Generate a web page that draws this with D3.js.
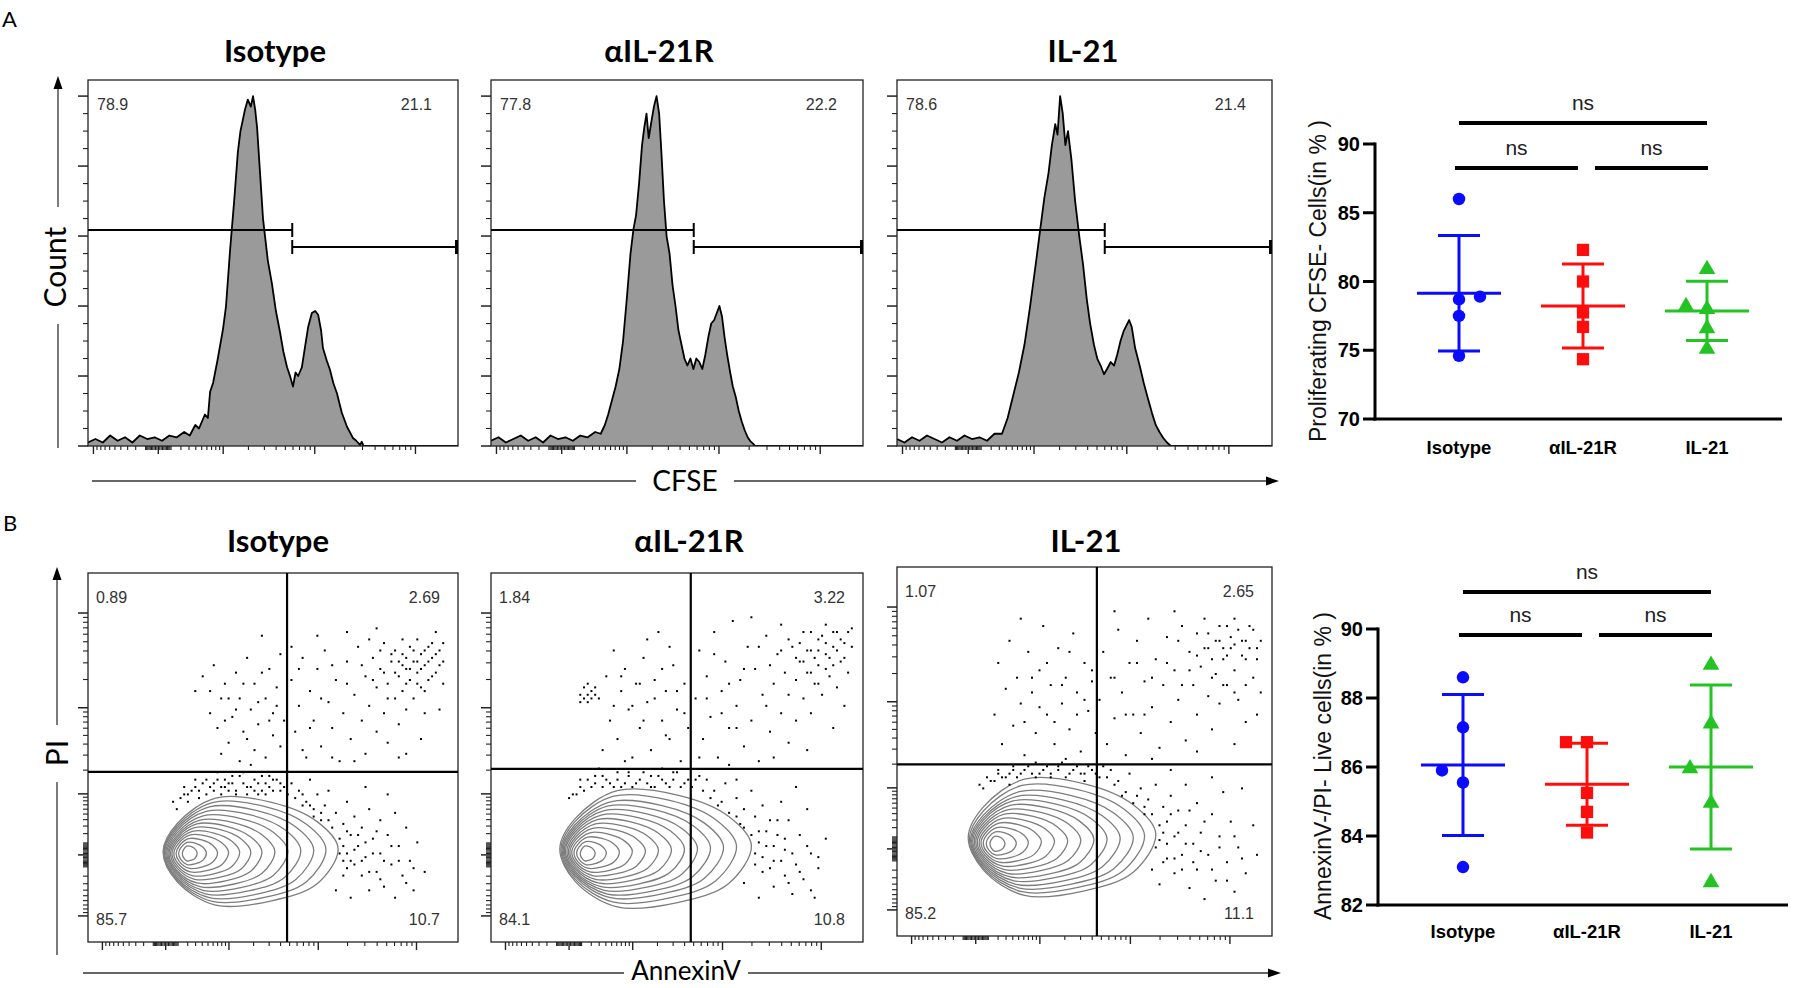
<!DOCTYPE html>
<html>
<head>
<meta charset="utf-8">
<title>CFSE proliferation and AnnexinV/PI viability</title>
<script src="https://cdn.jsdelivr.net/npm/d3@7/dist/d3.min.js"></script>
<style>
html,body{margin:0;padding:0;background:#fff;}
svg{display:block;}
</style>
</head>
<body>
<svg id="fig" width="1797" height="988"></svg>
<script>
// ======================= DATA =======================
const groups = ["Isotype", "αIL-21R", "IL-21"];

// CFSE histograms: [display channel 0-100, % of mode]
const histIsotype = [[0,1],[2,2],[4,1],[6,3],[8,1.5],[10,2.5],[12,1],[14,3],[16,2],[18,2.5],[20,1.5],[22,3],[24,2.5],[26,4],[27.5,3],[29,6],[30,5],[31.6,9],[32.4,8],[33,15.5],[33.8,18],[35,24.5],[36.5,33.5],[37.3,40],[38.4,56],[39.5,70],[40.5,84],[41.2,90],[42.4,96],[43.2,99],[44,97],[44.6,100],[45.2,96],[45.7,91],[46.5,78],[47.3,65],[48.6,53],[49.7,46.5],[50.8,38.5],[51.9,32.5],[52.8,27],[53.8,22.5],[54.6,20],[55.4,17],[56.1,21],[56.8,20],[57.8,22.5],[58.6,28],[59.5,34],[60.5,38],[61.4,38.6],[62.2,37.5],[63,33],[63.5,28],[64.5,24.5],[65.4,21.8],[66.3,18],[67.3,15],[68,12],[68.6,9.5],[70,5.5],[71.6,2.3],[72.5,1.5],[73.5,0.3],[74,1.2],[74.5,0],[100,0]];
const histAntiIL21R = [[0,1.5],[2,2.5],[4,1],[6,2],[8,3],[10,1.5],[12,2.5],[14,1],[16,3],[18,2],[20,2.5],[22,1.5],[24,3],[26,2.5],[28,4],[29.5,3.5],[30.6,6],[31.5,9],[32.5,13],[33.5,17],[34.5,22],[35.5,30],[36.5,42],[37.5,55],[38.3,62],[39,66],[39.8,75],[40.6,86],[41.2,91],[41.8,95],[42.4,88],[43,92],[43.8,97],[44.5,100],[45.2,95],[45.8,84],[46.5,70],[47.2,60],[48,55],[48.8,46],[49.6,40],[50.4,33],[51.2,29],[52,25],[52.8,23],[53.6,25],[54.4,22],[55.2,25],[56,24],[56.8,22],[57.6,26],[58.4,31],[59.2,35],[60,36],[60.7,38],[61.4,40],[62.1,37],[62.8,31],[63.5,26],[64.3,21],[65,17],[65.8,14],[66.6,10],[67.4,7],[68.2,4.5],[69,2.5],[69.7,1.4],[70.5,0.6],[71,0],[100,0]];
const histIL21 = [[0,2],[2,1],[4,2.5],[6,1.5],[8,3],[10,2],[12,1],[14,2.5],[16,1.5],[18,3],[20,2],[22,2.5],[24,1.5],[26,3.5],[28,3.5],[29.5,8],[31,14.5],[32.5,21],[34,29],[35.5,40],[37,52],[38.2,62],[39.3,71],[40.4,78],[41.3,86],[42.2,92],[42.8,89],[43.5,100],[44.2,95],[44.9,86],[45.6,90],[46.5,82],[47.5,70],[48.6,60],[49.6,52],[50.6,42],[51.5,35],[52.5,29],[53.4,25],[54.3,23],[55.2,20.5],[56,22],[57,24],[57.9,23],[58.7,26],[59.6,30],[60.5,33],[61.2,34.5],[61.9,36],[62.6,34],[63.5,28],[64.8,22.6],[65.8,18],[66.8,14],[68,9.4],[69,6],[70,4],[71,2.3],[72,1],[73,0],[100,0]];
const cfseGatePos = [55.2, 54.5, 55.4];
const cfseGateLabels = [["78.9","21.1"],["77.8","22.2"],["78.6","21.4"]];

// AnnexinV / PI quadrant plots (display channels 0-100; y measured upward)
const quadGatePos = [[53.8,46.1],[53.7,46.9],[53.3,46.5]];
const quadLabels = [["0.89","2.69","85.7","10.7"],["1.84","3.22","84.1","10.8"],["1.07","2.65","85.2","11.1"]];
// contour levels: [left, right, top, bottom]
const contoursIsotype = [[25.5,29.5,26,22],[24.5,32,27,21],[23.8,35,28,20],[23.2,38,29,19],[22.7,41,30,18],[22.3,44,31,17],[21.9,47,32,16],[21.6,50.5,33,15],[21.3,54,34.2,14],[21,57.5,35.4,13],[20.7,61,36.6,12],[20.5,64.3,37.8,11],[20.3,67.6,39,10]];
const contoursAntiIL21R = [[24,28,26,22],[23,31,27.2,21],[22.3,34.5,28.4,20],[21.7,38,29.6,19],[21.2,41.5,30.8,18],[20.8,45,32,17],[20.4,48.5,33.2,16],[20,52,34.4,15],[19.7,55.5,35.6,14],[19.4,59,36.8,13],[19.1,62.5,38,12],[18.8,66,39.5,10.8],[18.5,70,41,9.5]];
const contoursIL21 = [[24.8,28.8,27,23],[23.8,31.8,28.2,22],[23,35,29.4,21],[22.4,38.5,30.6,20],[21.9,42,31.8,19],[21.4,45.5,33,18],[21,49,34.2,17],[20.6,52.5,35.4,16],[20.2,56,36.6,15],[19.9,59.5,37.8,14],[19.6,63,39.1,13],[19.3,66,40.8,12],[19,69,42.5,11]];
// outlier events
const dotsIsotype = [[29,68],[31,72],[33,62],[34,75],[35,58],[36,66],[37,70],[38,54],[39,61],[40,73],[41,49],[41,66],[42,57],[43,77],[44,63],[45,52],[45,70],[46,59],[47,83],[48,66],[48,50],[49,74],[50,56],[50,62],[51,69],[52,53],[52,78],[53,60],[36,51],[44,48],
[38,66],[40,63],[42,70],[46,65],[47,73],[49,60],[51,64],[43,55],[37,60],[33,68],
[55,71],[56,57],[57,64],[58,77],[59,50],[60,68],[61,60],[62,74],[63,53],[64,79],[65,65],[66,58],[67,71],[68,49],[69,62],[70,76],[71,55],[72,67],[73,80],[74,60],[75,51],[75,72],[76,64],[77,77],[78,57],[78,69],[79,74],[80,62],[80,81],[81,70],[81,54],[82,76],[83,66],[83,79],[84,72],[84,59],[85,78],[85,68],[86,74],[86,63],[87,80],[87,71],[88,76],[88,66],[89,82],[89,73],[90,69],[90,78],[91,75],[91,62],[92,80],[92,71],[93,77],[94,73],[94,84],[95,79],[96,70],[96,76],[58,52],[66,50],[72,49],[84,50],[90,55],[62,83],[70,84],[78,85],[86,51],[95,63],[55,80],[76,82],
[80,73],[82,78],[83,73],[84,76],[85,75],[86,77],[86,70],[87,74],[88,79],[89,76],[90,74],[91,79],[92,76],[93,81],[94,78],[95,75],[96,81],[85,82],[89,70],[91,68],[93,72],[79,79],[81,66],[77,71],[74,75],[70,70],[66,75],[63,66],[60,58],[57,74],
[24,36],[26,40],[28,41],[30,39],[31,43],[33,42],[35,44],[36,40],[38,43],[40,41],[41,45],[43,42],[45,44],[46,40],[48,43],[50,41],[51,44],[53,42],[27,38],[37,42],[44,39],[49,45],
[23,38],[25,39],[26,42],[27,40],[29,42],[29,44],[30,41],[32,40],[32,44],[34,41],[34,43],[35,46],[36,42],[37,44],[38,41],[39,43],[39,45],[40,40],[42,43],[42,46],[43,40],[44,42],[45,41],[46,43],[47,41],[47,45],[48,40],[49,42],[50,44],[52,41],[52,43],[54,40],[55,43],[56,39],[58,40],[58,37],[60,37],[61,34],[62,32],[63,35],[64,30],[65,33],[66,28],[67,26],[68,24],[69,22],[69,26],[70,20],[70,30],[71,22],[72,25],[73,29],[74,22],[75,27],[76,19],[77,24],[78,30],[79,17],[80,22],[82,26],[84,22],[86,16],[88,20],
[57,41],[59,38],[61,36],[62,40],[63,33],[64,37],[66,31],[67,35],[68,28],[69,32],[70,24],[70,38],[71,29],[72,21],[72,34],[73,26],[74,18],[74,31],[75,23],[76,36],[76,14],[77,28],[78,19],[79,33],[79,24],[80,15],[81,29],[82,21],[83,35],[83,12],[84,26],[85,18],[86,31],[87,22],[88,14],[89,27],[91,19],[69,18],[67,14],[71,12],[65,41],[60,44],[75,42],[81,40]];
const dotsAntiIL21R = [[24,67],[25,66],[25,69],[26,67],[26,65],[27,68],[27,66],[28,67],[24,65],[28,69],[29,66],[26,70],[31,72],[32,60],[33,79],[34,55],[35,68],[36,74],[37,63],[38,50],[39,70],[40,58],[41,77],[42,65],[43,52],[44,71],[45,84],[46,60],[47,68],[48,55],[49,75],[50,63],[51,49],[52,70],[53,58],[30,52],[42,82],[36,49],[48,80],
[38,64],[40,70],[44,66],[46,74],[50,68],[52,62],[41,60],[35,72],[47,56],[33,64],
[55,66],[56,79],[57,55],[58,72],[59,61],[60,84],[61,50],[62,68],[63,76],[64,58],[65,87],[66,64],[67,71],[68,53],[69,80],[70,60],[71,74],[72,49],[73,67],[74,83],[75,57],[76,70],[77,78],[78,62],[78,86],[79,73],[80,54],[80,67],[81,80],[82,71],[82,60],[83,76],[84,84],[84,66],[85,73],[86,79],[86,62],[87,70],[88,82],[88,75],[89,67],[90,78],[90,86],[91,72],[92,80],[93,69],[93,84],[94,76],[95,81],[96,73],[97,85],[56,50],[64,48],[76,50],[85,52],[92,58],[95,64],[70,88],[60,78],
[82,77],[83,81],[85,79],[86,84],[87,77],[88,79],[89,83],[90,81],[91,77],[92,84],[93,79],[94,82],[95,77],[96,84],[97,80],[84,76],[86,73],[88,70],[90,74],[92,75],[80,82],[78,79],[75,75],[72,80],[68,74],[64,70],[62,62],[58,66],[66,58],[74,64],
[22,40],[24,42],[26,44],[28,43],[30,45],[32,43],[34,46],[35,42],[37,45],[39,43],[41,46],[43,42],[45,45],[47,43],[49,46],[51,42],[53,44],[29,47],[40,41],[46,47],[56,45],
[21,39],[23,40],[24,44],[25,41],[27,42],[28,45],[30,42],[31,44],[33,42],[34,44],[36,43],[37,46],[38,42],[40,44],[42,43],[43,45],[44,42],[46,44],[48,42],[49,44],[50,46],[52,43],[54,42],[55,44],[57,41],[59,39],[61,37],[62,35],[64,33],[65,30],[66,34],[67,28],[68,31],[69,25],[70,29],[71,21],[72,27],[73,23],[74,30],[75,20],[76,26],[77,33],[78,22],[79,28],[80,16],[81,24],[83,19],[85,26],[86,14],[88,23],
[58,44],[60,41],[62,38],[63,43],[64,35],[66,39],[67,32],[68,36],[69,28],[70,41],[71,24],[71,34],[72,30],[73,19],[73,37],[74,26],[75,33],[76,15],[76,22],[77,29],[78,38],[79,18],[79,25],[80,33],[81,13],[82,21],[83,29],[84,17],[85,36],[86,24],[87,12],[88,20],[90,28],[68,16],[72,12],[66,44],[82,42]];
const dotsIL21 = [[26,60],[27,74],[28,52],[29,67],[30,80],[31,57],[32,70],[33,63],[34,49],[35,77],[36,66],[37,55],[38,72],[39,84],[40,60],[41,68],[42,52],[43,78],[44,63],[45,70],[46,56],[47,82],[48,66],[49,50],[50,74],[51,61],[52,69],[53,55],[33,86],[45,48],
[38,62],[40,74],[44,68],[46,77],[50,64],[52,72],[42,58],[36,70],[48,60],[34,58],
[54,64],[55,77],[56,52],[57,70],[58,59],[59,83],[60,66],[61,49],[62,74],[63,60],[64,80],[65,55],[66,69],[67,86],[68,62],[69,75],[70,51],[71,68],[72,81],[73,58],[74,72],[75,64],[76,84],[77,53],[78,77],[79,68],[80,60],[80,82],[81,73],[82,86],[83,65],[83,78],[84,56],[85,71],[86,80],[86,63],[87,75],[88,84],[88,68],[89,78],[90,72],[90,86],[91,64],[92,80],[93,75],[93,58],[94,84],[95,70],[96,78],[97,66],[68,48],[80,50],[90,52],[58,88],[74,88],[96,60],
[82,78],[83,82],[84,75],[85,80],[86,84],[87,78],[88,76],[89,81],[90,79],[91,83],[92,76],[93,80],[94,78],[95,83],[96,75],[97,80],[84,70],[87,68],[90,66],[93,68],[80,76],[78,72],[75,80],[72,74],[68,70],[64,74],[61,60],[58,70],[66,60],[76,68],
[23,40],[25,42],[27,44],[29,43],[31,45],[33,44],[35,46],[37,43],[39,45],[41,44],[43,46],[45,43],[47,45],[49,44],[51,46],[53,44],[30,41],[42,42],[50,42],[55,46],
[22,41],[24,43],[26,42],[27,45],[28,43],[30,44],[31,46],[32,43],[34,45],[36,44],[37,47],[38,44],[40,46],[41,43],[43,45],[44,47],[46,44],[48,46],[50,44],[52,45],[54,43],[56,43],[58,41],[60,38],[61,35],[63,33],[64,38],[65,30],[66,35],[67,27],[68,33],[69,24],[70,30],[71,20],[71,28],[72,25],[73,33],[74,21],[75,28],[76,18],[77,25],[78,34],[79,20],[81,23],[82,31],[84,18],[86,24],[88,15],[90,27],[92,21],
[57,45],[59,42],[61,39],[62,44],[63,36],[65,40],[66,33],[67,37],[68,30],[69,41],[70,26],[71,35],[72,21],[72,31],[73,38],[74,17],[74,27],[75,34],[76,22],[77,30],[77,41],[78,13],[79,25],[80,36],[80,18],[81,28],[82,10],[83,22],[84,33],[85,15],[86,27],[87,39],[88,20],[89,31],[90,12],[91,24],[93,17],[95,30],[96,22],[70,14],[68,18],[73,45],[84,43],[92,40]];

// Summary plots (five donors per group)
const prolifIsotype   = [86.0, 78.7, 77.5, 74.6, 78.9];
const prolifAntiIL21R = [82.3, 80.0, 77.75, 76.7, 74.35];
const prolifIL21      = [81.0, 78.3, 78.1, 76.7, 75.2];
const prolifColumns   = [[0,0,0,0,1],[0,0,0,0,0],[0,-1,0,0,0]];
const liveIsotype     = [88.6, 87.15, 85.55, 85.9, 83.1];
const liveAntiIL21R   = [86.72, 86.72, 85.25, 84.7, 84.1];
const liveIL21        = [89.0, 87.3, 86.0, 85.0, 82.7];
const liveColumns     = [[0,0,0,-1,0],[-1,0,0,0,0],[0,0,-1,0,0]];
const prolifTicks = [70, 75, 80, 85, 90];
const liveTicks   = [82, 84, 86, 88, 90];
const comparisons = [[0,1,"ns"],[1,2,"ns"],[0,2,"ns"]];

// axis tick values (fluorescence units, biexponential-like display)
const majorFluorTicks = [-1000, 0, 1000, 10000, 100000];
const modeTicks = [0, 20, 40, 60, 80, 100];

// ======================= DRAWING =======================
const svg = d3.select("#fig");
const CAL = "Lato, Carlito, 'Open Sans', sans-serif";
const ARI = "'Liberation Sans', Arial, Helvetica, sans-serif";
const COLORS = ["#0b0bff", "#ff0d0d", "#22c322"];

function txt(g, x, y, s, size, o = {}) {
  const t = g.append("text").attr("x", x).attr("y", y).text(s)
    .attr("font-family", o.family || CAL).attr("font-size", size)
    .attr("font-weight", o.weight || "normal").attr("fill", o.fill || "#000")
    .attr("text-anchor", o.anchor || "start");
  if (o.rotate) t.attr("transform", `rotate(-90,${x},${y})`);
  return t;
}
function ln(g, x1, y1, x2, y2, w, c) {
  return g.append("line").attr("x1", x1).attr("y1", y1).attr("x2", x2).attr("y2", y2)
    .attr("stroke", c || "#000").attr("stroke-width", w);
}

// minor fluorescence ticks
const minorFluorTicks = [10, 100];
[10, 100, 1000, 10000].forEach(d => { for (let k = 2; k <= 9; k++) minorFluorTicks.push(k * d); });
[10, 100].forEach(d => { for (let k = 1; k <= 9; k++) minorFluorTicks.push(-k * d); });

function fluorScale(lowEnd) {
  return d3.scaleSymlog().constant(300).domain([lowEnd, 262144]).range([0, 100]);
}
const cfseScale = fluorScale(-1170);
const annexScale = fluorScale(-1515);
const piScale = fluorScale(-2133);

function xFluorTicks(g, xs, fs, yBase) {
  minorFluorTicks.forEach(v => { const c = fs(v); if (c >= 0 && c <= 100) ln(g, xs(c), yBase, xs(c), yBase + 4, 1.1, "#222"); });
  majorFluorTicks.forEach(v => { const c = fs(v); if (c >= 0 && c <= 100) ln(g, xs(c), yBase, xs(c), yBase + 8, 1.4, "#222"); });
}
function yFluorTicks(g, ys, fs, xBase) {
  minorFluorTicks.forEach(v => { const c = fs(v); if (c >= 0 && c <= 100) ln(g, xBase - 5, ys(c), xBase, ys(c), 1.1, "#222"); });
  majorFluorTicks.forEach(v => { const c = fs(v); if (c >= 0 && c <= 100) ln(g, xBase - 10, ys(c), xBase, ys(c), 1.5, "#222"); });
}

// panel letters
txt(svg, 2, 27, "A", 22);
txt(svg, 3, 531, "B", 22);

// ---------- A: CFSE histograms ----------
const histData = [histIsotype, histAntiIL21R, histIL21];
const histBoxes = [{x:88,y:80,w:370,h:366},{x:491,y:80,w:372,h:366},{x:897,y:80,w:375,h:366}];
const histTitleX = [275, 659, 1083];
const modeTop = 104.6;

histBoxes.forEach((b, i) => {
  const g = svg.append("g");
  const xs = d3.scaleLinear().domain([0, 100]).range([b.x, b.x + b.w]);
  const ys = d3.scaleLinear().domain([0, modeTop]).range([b.y + b.h, b.y]);
  const cid = "hclip" + i;
  g.append("clipPath").attr("id", cid).append("rect")
    .attr("x", b.x).attr("y", b.y).attr("width", b.w).attr("height", b.h);
  const inner = g.append("g").attr("clip-path", `url(#${cid})`);
  inner.append("path").datum(histData[i])
    .attr("d", d3.area().x(d => xs(d[0])).y0(ys(0)).y1(d => ys(d[1])))
    .attr("fill", "#9a9a9a");
  inner.append("path").datum(histData[i])
    .attr("d", d3.line().x(d => xs(d[0])).y(d => ys(d[1])))
    .attr("fill", "none").attr("stroke", "#000").attr("stroke-width", 1.8)
    .attr("stroke-linejoin", "round");
  g.append("rect").attr("x", b.x).attr("y", b.y).attr("width", b.w).attr("height", b.h)
    .attr("fill", "none").attr("stroke", "#222").attr("stroke-width", 1.3);
  d3.range(0, 101, 5).forEach(v => {
    const major = modeTicks.includes(v);
    ln(g, b.x - (major ? 10 : 5), ys(v), b.x, ys(v), major ? 1.5 : 1.1, "#222");
  });
  xFluorTicks(g, xs, cfseScale, b.y + b.h);
  const gx = xs(cfseGatePos[i]);
  const gy1 = b.y + 150, gy2 = b.y + 167;
  ln(g, b.x, gy1, gx, gy1, 2);
  ln(g, gx, gy1 - 7, gx, gy1 + 7, 2);
  ln(g, gx, gy2, b.x + b.w, gy2, 2);
  ln(g, gx, gy2 - 7, gx, gy2 + 7, 2);
  ln(g, b.x + b.w - 1.5, gy2 - 7, b.x + b.w - 1.5, gy2 + 7, 3);
  txt(g, b.x + 9, b.y + 30, cfseGateLabels[i][0], 16, {family: ARI, fill: "#333"});
  txt(g, b.x + b.w - 26, b.y + 30, cfseGateLabels[i][1], 16, {family: ARI, fill: "#333", anchor: "end"});
  txt(svg, histTitleX[i], 62, groups[i], 31, {weight: "bold", anchor: "middle"});
});

// Count / CFSE axis arrows
(function () {
  const g = svg.append("g");
  ln(g, 58, 86, 58, 207, 1.3, "#333");
  ln(g, 58, 324, 58, 448, 1.3, "#333");
  g.append("path").attr("d", "M58,76 L53.5,89 L62.5,89 Z").attr("fill", "#000");
  txt(g, 66, 267, "Count", 30, {anchor: "middle", rotate: true});
  ln(g, 92, 481, 636, 481, 1.3, "#333");
  ln(g, 734, 481, 1268, 481, 1.3, "#333");
  g.append("path").attr("d", "M1279,481 L1266,476.5 L1266,485.5 Z").attr("fill", "#000");
  txt(g, 685, 491, "CFSE", 28, {anchor: "middle"});
})();

// ---------- B: AnnexinV / PI ----------
const dotData = [dotsIsotype, dotsAntiIL21R, dotsIL21];
const contourData = [contoursIsotype, contoursAntiIL21R, contoursIL21];
const quadBoxes = [{x:88,y:573,w:370,h:369},{x:491,y:573,w:372,h:369},{x:897,y:567,w:375,h:369}];
const quadTitleX = [278, 689, 1086];

function contourPoints(c) {
  const [xl, xr, yt, yb] = c, w = xr - xl, h = yt - yb, yc = (yt + yb) / 2;
  return [[xl, yc], [xl + 0.08 * w, yt - 0.24 * h], [xl + 0.3 * w, yt], [xl + 0.62 * w, yt - 0.04 * h],
          [xl + 0.88 * w, yt - 0.22 * h], [xr, yc + 0.03 * h], [xl + 0.88 * w, yb + 0.2 * h],
          [xl + 0.62 * w, yb + 0.04 * h], [xl + 0.3 * w, yb], [xl + 0.08 * w, yb + 0.22 * h]];
}

quadBoxes.forEach((b, i) => {
  const g = svg.append("g");
  const xs = d3.scaleLinear().domain([0, 100]).range([b.x, b.x + b.w]);
  const ys = d3.scaleLinear().domain([0, 100]).range([b.y + b.h, b.y]);
  const cline = d3.line().x(d => xs(d[0])).y(d => ys(d[1])).curve(d3.curveCatmullRomClosed.alpha(0.5));
  const cg = g.append("g");
  let outerPath = null;
  contourData[i].forEach((c, k) => {
    const p = cg.append("path").attr("d", cline(contourPoints(c)))
      .attr("fill", "none").attr("stroke", "#7d7d7d").attr("stroke-width", 1.3);
    if (k === contourData[i].length - 1) outerPath = p.node();
  });
  const poly = [];
  const L = outerPath.getTotalLength();
  for (let s = 0; s < L; s += 3) { const pt = outerPath.getPointAtLength(s); poly.push([pt.x, pt.y]); }
  const pts = dotData[i].map(d => [xs(d[0]), ys(d[1])]).filter(p => !d3.polygonContains(poly, p));
  g.append("g").selectAll("rect").data(pts).join("rect")
    .attr("x", d => d[0] - 1).attr("y", d => d[1] - 1).attr("width", 2).attr("height", 2).attr("fill", "#000");
  g.append("rect").attr("x", b.x).attr("y", b.y).attr("width", b.w).attr("height", b.h)
    .attr("fill", "none").attr("stroke", "#222").attr("stroke-width", 1.3);
  const qx = xs(quadGatePos[i][0]), qy = ys(quadGatePos[i][1]);
  ln(g, qx, b.y, qx, b.y + b.h, 2.2);
  ln(g, b.x, qy, b.x + b.w, qy, 2.2);
  yFluorTicks(g, ys, piScale, b.x);
  xFluorTicks(g, xs, annexScale, b.y + b.h);
  const lab = quadLabels[i];
  txt(g, b.x + 8, b.y + 30, lab[0], 16, {family: ARI, fill: "#333"});
  txt(g, b.x + b.w - 18, b.y + 30, lab[1], 16, {family: ARI, fill: "#333", anchor: "end"});
  txt(g, b.x + 8, b.y + b.h - 17, lab[2], 16, {family: ARI, fill: "#333"});
  txt(g, b.x + b.w - 18, b.y + b.h - 17, lab[3], 16, {family: ARI, fill: "#333", anchor: "end"});
  txt(svg, quadTitleX[i], 552, groups[i], 31, {weight: "bold", anchor: "middle"});
});

// PI / AnnexinV axis arrows
(function () {
  const g = svg.append("g");
  ln(g, 57, 578, 57, 725, 1.3, "#333");
  ln(g, 57, 782, 57, 955, 1.3, "#333");
  g.append("path").attr("d", "M57,567 L52.5,580 L61.5,580 Z").attr("fill", "#000");
  txt(g, 68, 753, "PI", 30, {anchor: "middle", rotate: true});
  ln(g, 83, 973, 624, 973, 1.3, "#333");
  ln(g, 748, 973, 1270, 973, 1.3, "#333");
  g.append("path").attr("d", "M1281,973 L1268,968.5 L1268,977.5 Z").attr("fill", "#000");
  txt(g, 686, 980, "AnnexinV", 26, {anchor: "middle"});
})();

// ---------- Summary scatter plots ----------
const markerTypes = [d3.symbolCircle, d3.symbolSquare, d3.symbolTriangle];
const markerSizes = [122, 150, 120];

function summaryPlot(o) {
  const g = svg.append("g");
  const ys = d3.scaleLinear().domain(o.domain).range([o.bottom, o.top]);
  const xs = d3.scalePoint().domain(groups).range([o.x0, o.x1]);
  ln(g, o.axisX, ys(o.domain[1]) - 1.5, o.axisX, o.bottom + 1.5, 3);
  ln(g, o.axisX - 1.5, o.bottom, o.xEnd, o.bottom, 3);
  o.ticks.forEach(t => {
    ln(g, o.axisX - 12, ys(t), o.axisX, ys(t), 3);
    txt(g, o.axisX - 15, ys(t) + 7, String(t), 20, {family: ARI, weight: "bold", anchor: "end"});
  });
  groups.forEach(gr => txt(g, xs(gr), o.catY, gr, 18.5, {family: ARI, weight: "bold", anchor: "middle"}));
  txt(g, o.titleX, o.titleY, o.title, 23, {family: ARI, anchor: "middle", rotate: true, fill: "#111"});
  o.series.forEach((vals, gi) => {
    const cx = xs(groups[gi]);
    const col = COLORS[gi];
    const mean = d3.mean(vals), sd = d3.deviation(vals);
    vals.forEach((v, k) => {
      const px = cx + o.cols[gi][k] * 21;
      g.append("path").attr("d", d3.symbol().type(markerTypes[gi]).size(markerSizes[gi])())
        .attr("transform", `translate(${px},${ys(v) + (gi === 2 ? 1.5 : 0)})`).attr("fill", col);
    });
    ln(g, cx - 42, ys(mean), cx + 42, ys(mean), 3, col);
    ln(g, cx, ys(mean - sd), cx, ys(mean + sd), 3, col);
    ln(g, cx - 21, ys(mean + sd), cx + 21, ys(mean + sd), 3, col);
    ln(g, cx - 21, ys(mean - sd), cx + 21, ys(mean - sd), 3, col);
  });
  comparisons.forEach(([a, c, lab]) => {
    const xa = xs(groups[a]), xc = xs(groups[c]);
    let x1, x2, y;
    if (c - a === 2) { x1 = xa; x2 = xc; y = o.sigTop; }
    else if (a === 0) { x1 = xa - 4; x2 = xc - 5; y = o.sigLow; }
    else { x1 = xa + 12; x2 = xc + 1; y = o.sigLow; }
    ln(g, x1, y, x2, y, 4);
    txt(g, (x1 + x2) / 2, y - 13, lab, 21, {family: ARI, anchor: "middle", fill: "#222"});
  });
}

summaryPlot({
  domain: [70, 90], top: 144, bottom: 419, axisX: 1375, xEnd: 1782, x0: 1459, x1: 1707,
  ticks: prolifTicks, catY: 454, series: [prolifIsotype, prolifAntiIL21R, prolifIL21], cols: prolifColumns,
  title: "Proliferating CFSE- Cells(in % )", titleX: 1326, titleY: 281, sigTop: 123, sigLow: 168
});
summaryPlot({
  domain: [82, 90], top: 629, bottom: 905, axisX: 1378, xEnd: 1788, x0: 1463, x1: 1711,
  ticks: liveTicks, catY: 938, series: [liveIsotype, liveAntiIL21R, liveIL21], cols: liveColumns,
  title: "AnnexinV-/PI- Live cells(in % )", titleX: 1331, titleY: 766, sigTop: 592, sigLow: 635
});
</script>
</body>
</html>
